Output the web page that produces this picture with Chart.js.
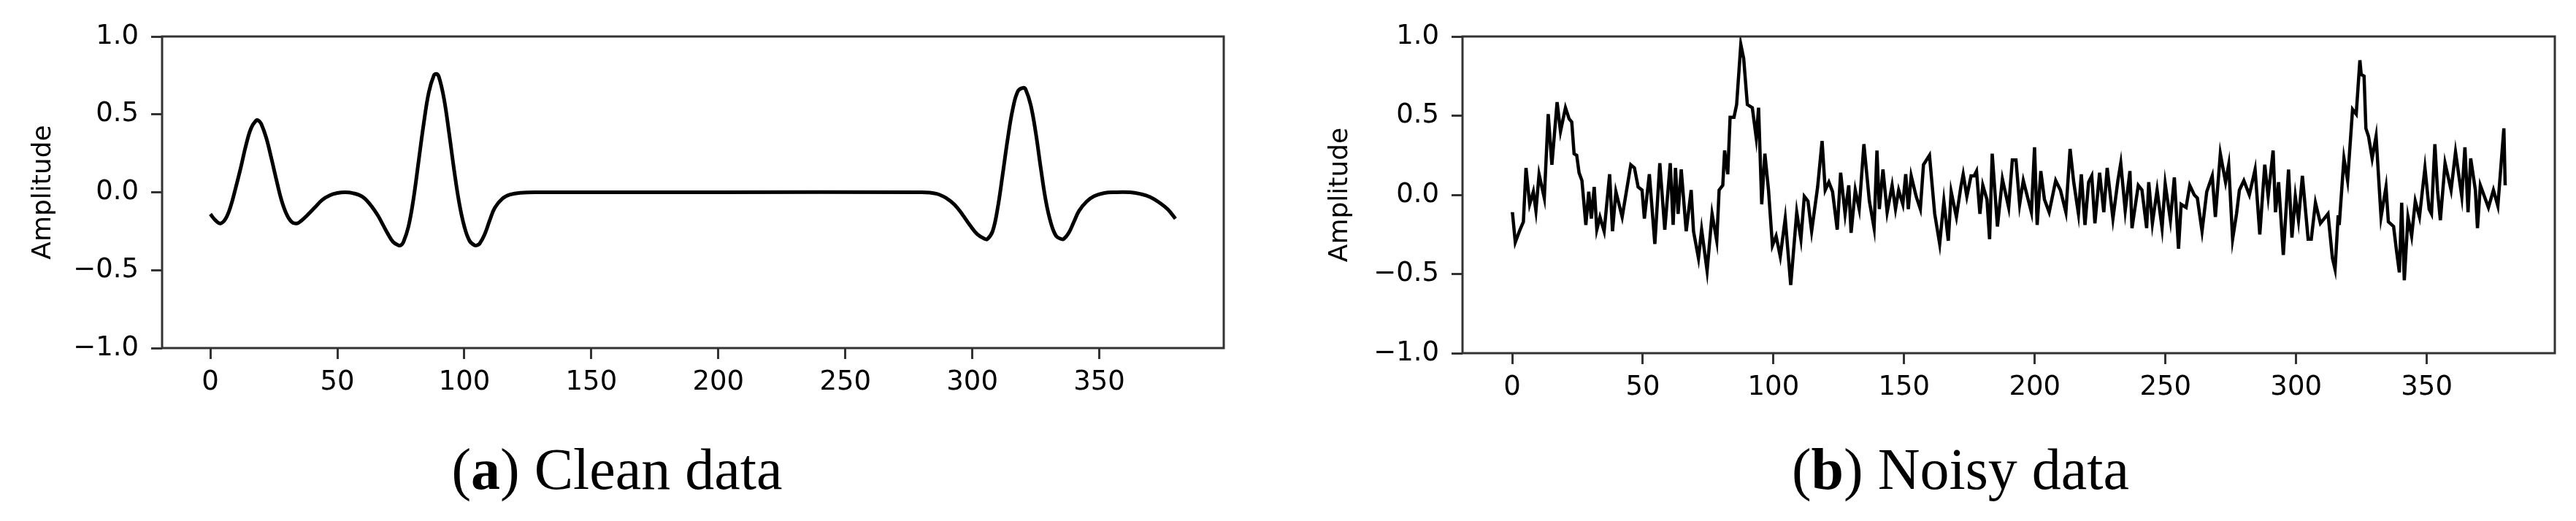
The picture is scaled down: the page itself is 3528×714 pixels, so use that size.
<!DOCTYPE html>
<html><head><meta charset="utf-8">
<script src="https://cdn.jsdelivr.net/npm/chart.js@4/dist/chart.umd.min.js"></script>
<style>
body{margin:0;width:3528px;height:714px;background:#fff;position:relative;overflow:hidden}
canvas{position:absolute;top:0}
.cap{position:absolute;font-family:"Liberation Serif",serif;font-size:80px;color:#000;white-space:nowrap;transform:translateX(-50%);top:598px}
</style></head><body>
<div style="position:absolute;left:0;top:0;width:1764px;height:560px"><canvas id="c1"></canvas></div>
<div style="position:absolute;left:1764px;top:0;width:1764px;height:560px"><canvas id="c2"></canvas></div>
<div class="cap" style="left:845px">(<b>a</b>) Clean data</div>
<div class="cap" style="left:2685px">(<b>b</b>) Noisy data</div>
<script>
const xTicks=[0,50,100,150,200,250,300,350];
const yTicks=[-1.0,-0.5,0.0,0.5,1.0];
const yLabel="Amplitude";
const cleanX=[0,2,4,6,8,10,12,14,16,18,19,20,22,24,26,28,30,32,34,36,38,41,44,47,50,53,56,60,63,66,68,70,72,74,75,76,78,80,82,84,86,88,89,90,92,94,96,98,100,102,104,105,106,108,110,112,115,118,122,130,200,280,286,290,293,296,299,302,305,306,308,310,312,314,316,318,320,321,323,325,327,329,331,333,335,336,338,340,342,345,348,352,356,362,366,370,374,377,380];
const cleanY=[-0.14,-0.18,-0.2,-0.17,-0.09,0.03,0.16,0.3,0.41,0.46,0.46,0.44,0.35,0.22,0.08,-0.05,-0.14,-0.19,-0.2,-0.18,-0.15,-0.1,-0.05,-0.02,-0.005,0,-0.005,-0.03,-0.08,-0.15,-0.21,-0.27,-0.32,-0.34,-0.34,-0.32,-0.22,-0.04,0.2,0.44,0.64,0.75,0.76,0.74,0.6,0.38,0.14,-0.07,-0.22,-0.31,-0.34,-0.34,-0.33,-0.27,-0.18,-0.1,-0.04,-0.015,-0.003,0,0,0,-0.01,-0.04,-0.08,-0.14,-0.21,-0.27,-0.3,-0.3,-0.25,-0.1,0.12,0.35,0.54,0.65,0.67,0.66,0.56,0.38,0.15,-0.06,-0.2,-0.28,-0.3,-0.3,-0.26,-0.19,-0.12,-0.06,-0.025,-0.005,0,0,-0.01,-0.03,-0.07,-0.11,-0.17];
const noisyX=[0,0.1,1.2,3,4.3,5.3,6.7,8.1,9.1,10.3,12.3,13.8,15.2,17.2,18.5,20.4,21.8,22.8,23.7,24.7,25.6,26.7,28.2,29.3,30.3,31.4,32.4,33.6,35.2,37.3,38.4,39.7,42.1,45.4,46.8,48.2,49.7,50.6,52.5,54.6,56.5,58.4,60.5,61.6,62.5,63.5,64.7,66.6,68.5,69.4,71.3,72.5,74.6,76.5,78.3,79.2,80.6,81.3,82.5,83.4,84.9,85.9,87.5,88.6,90,91.9,93.4,94.3,95.5,96.7,98.1,99.6,101,102.6,104.5,106.6,108.9,110.5,111.8,113.2,114.6,116.9,118.6,119.8,121.2,122.6,124.4,125.7,127.4,128.8,129.7,131.3,132.8,134.6,136.7,138.5,139.6,140.5,141.9,143.5,145.4,146.7,147.9,149.5,150.6,151.6,152.7,154.6,156.2,157.4,159.7,161.7,163.6,165.2,166.9,168,170,171.7,172.6,174,175.6,176.8,177.7,179,180.1,181.7,182.7,183.7,185.7,187.6,190,191.4,192.8,194.2,195.6,198.7,199.9,200.9,202.3,203.7,205.5,208,209.8,211.9,213.5,214.9,216.7,217.8,219.2,220.6,221.8,223,224.8,226.4,227.7,229.9,231.8,232.9,234.6,236.4,237.2,239.6,241,242.8,243.6,245,246.8,248.7,249.9,251.9,253.4,255,256,257.9,259.3,261,262.2,264,265.8,267.9,269.1,271,273,274.2,275.7,277.2,278.3,280,282.1,284.3,286.1,288,289.3,291.2,292.1,293.3,295.1,297.1,298.4,299.7,300.9,302.4,304.6,305.8,307.4,309.3,312.2,313.9,314.9,316.1,316.5,318.3,319.7,321.6,323,324.4,324.9,326,326.7,327.7,329.1,330.6,332.5,334.4,335.3,337.3,338.4,339.5,340.4,341.4,342.8,344.2,345.6,347.2,349.3,350.9,351.8,353.1,354.1,355.2,357,359.3,361,363.4,364.6,365.8,366.8,368.6,369.4,370.5,373.6,375.5,377.2,379.5,380];
const noisyY=[-0.12,-0.11,-0.3,-0.22,-0.17,0.17,-0.06,0.02,-0.1,0.13,-0.02,0.51,0.19,0.585,0.4,0.55,0.48,0.46,0.26,0.25,0.14,0.09,-0.19,0.02,-0.15,0.05,-0.22,-0.14,-0.23,0.13,-0.23,0.02,-0.14,0.19,0.17,0.05,0.03,-0.15,0.13,-0.31,0.2,-0.22,0.2,-0.19,0.17,-0.12,0.16,-0.23,0.03,-0.23,-0.4,-0.22,-0.48,-0.12,-0.29,0.03,0.06,0.28,0.13,0.49,0.49,0.57,0.95,0.86,0.57,0.55,0.36,0.55,-0.06,0.26,0.03,-0.32,-0.26,-0.39,-0.15,-0.57,-0.11,-0.28,-0.01,-0.04,-0.23,0.05,0.34,0.03,0.08,0.02,-0.22,0.14,-0.12,0.06,-0.24,0.03,-0.09,0.32,-0.04,-0.21,0.28,-0.09,0.16,-0.11,0.06,-0.09,0.03,-0.06,0.13,-0.09,0.12,-0.01,-0.09,0.19,0.25,-0.12,-0.31,-0.04,-0.29,0.02,-0.14,0.05,0.13,-0.01,0.12,0.12,0.15,-0.12,0.06,-0.03,-0.28,0.26,-0.2,0.1,-0.08,0.22,0.22,-0.06,0.09,-0.11,0.3,-0.19,0.15,-0.03,-0.11,0.09,0.03,-0.11,0.29,0.08,-0.12,0.13,-0.19,0.08,0.12,-0.18,0.14,-0.11,0.17,-0.15,0.09,0.2,-0.1,0.15,-0.21,0.06,0.03,-0.21,0.08,-0.18,0.03,-0.21,0.07,-0.16,0.11,-0.34,-0.06,-0.08,0.06,0,-0.02,-0.23,0.02,0.12,-0.14,0.26,0.08,0.19,-0.28,-0.12,0.03,0.09,0,0.16,-0.25,0.19,-0.01,0.28,-0.11,0.08,-0.38,0.16,-0.27,-0.01,-0.16,0.12,-0.28,-0.28,-0.05,-0.18,-0.12,-0.4,-0.47,-0.13,-0.19,0.23,0.09,0.54,0.51,0.85,0.76,0.75,0.42,0.37,0.23,0.37,-0.14,0.05,-0.17,-0.2,-0.35,-0.49,-0.05,-0.54,-0.14,-0.26,-0.04,-0.14,0.17,-0.09,-0.12,0.32,0.03,-0.16,0.2,0.03,0.27,-0.01,0.3,-0.11,0.23,0.03,-0.21,0.06,-0.08,0.03,-0.07,0.42,0.06,-0.09,0.22,0.19,-0.07,-0.07];

const frame={id:'frame',afterDatasetsDraw(c){const a=c.chartArea,x=c.ctx;x.save();x.strokeStyle='#333';x.lineWidth=3;x.strokeRect(a.left,a.top,a.right-a.left,a.bottom-a.top);x.restore();}};
function make(id,xs,ys,yW,xH,rPad,titlePad,lw,tension){
  const pts=xs.map((v,i)=>({x:v,y:ys[i]}));
  const font={family:'"DejaVu Sans"',size:37};
  new Chart(document.getElementById(id),{type:'line',
    data:{datasets:[{data:pts,borderColor:'#000',borderWidth:lw,pointRadius:0,tension:tension,fill:false}]},
    options:{responsive:true,maintainAspectRatio:false,animation:false,
      layout:{padding:{top:50,right:rPad,left:0,bottom:0}},
      plugins:{legend:{display:false},tooltip:{enabled:false}},
      scales:{
        x:{type:'linear',min:-19,max:399,
          afterBuildTicks(s){s.ticks=xTicks.map(v=>({value:v}));},
          afterFit(s){s.height=xH;},
          grid:{display:true,drawOnChartArea:false,drawTicks:true,tickLength:15,color:'#333',lineWidth:3},
          border:{display:false},
          ticks:{font:font,color:'#000',padding:10,maxRotation:0,autoSkip:false}},
        y:{min:-1,max:1,
          afterBuildTicks(s){s.ticks=yTicks.map(v=>({value:v}));},
          afterFit(s){s.width=yW;},
          grid:{display:true,drawOnChartArea:false,drawTicks:true,tickLength:15,color:'#333',lineWidth:3},
          border:{display:false},
          title:{display:true,text:yLabel,font:{family:'"DejaVu Sans"',size:36},color:'#000',padding:{top:titlePad,bottom:0}},
          ticks:{font:font,color:'#000',padding:17,autoSkip:false,callback:v=>(v<0?'\u2212':'')+Math.abs(v).toFixed(1)}}
      }},plugins:[frame]});
}
make('c1',cleanX,cleanY,222,83,88,38,5,0.4);
make('c2',noisyX,noisyY,239,76,29,50,4.5,0);
</script></body></html>
